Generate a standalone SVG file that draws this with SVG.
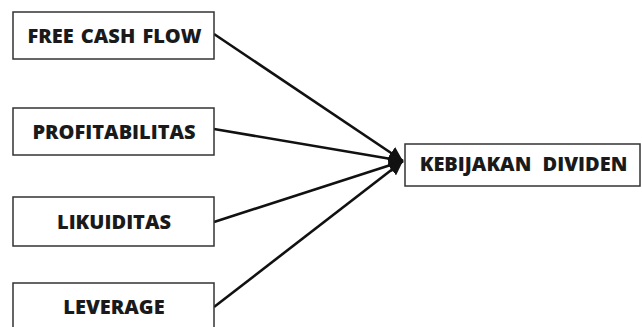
<svg xmlns="http://www.w3.org/2000/svg" width="642" height="327" viewBox="0 0 642 327">
<style>
.box{fill:#fff;stroke:#333;stroke-width:1.5}
.lbl{font-family:"Open Sans","Liberation Sans",sans-serif;font-weight:800;font-size:20px;fill:#1a1a1a;text-anchor:middle}
.conn{stroke:#111;stroke-width:2.6;fill:none}
</style>
<defs>
<marker id="ah" viewBox="0 0 10 10" refX="10" refY="5" markerWidth="5.5" markerHeight="5.5" markerUnits="strokeWidth" orient="auto">
<path d="M0,0 L10,5 L0,10 Z" fill="#111"/>
</marker>
</defs>
<rect width="642" height="327" fill="#fff"/>
<g id="connectors">
<line class="conn" x1="214" y1="34" x2="403" y2="161" marker-end="url(#ah)"/>
<line class="conn" x1="214" y1="129" x2="403" y2="161" marker-end="url(#ah)"/>
<line class="conn" x1="214" y1="222" x2="403" y2="161" marker-end="url(#ah)"/>
<line class="conn" x1="214" y1="307" x2="403" y2="161" marker-end="url(#ah)"/>
</g>
<g id="free-cash-flow">
<rect class="box" x="13" y="12" width="201" height="47"/>
<text class="lbl" x="114.5" y="43.3" word-spacing="2">FREE CASH FLOW</text>
</g>
<g id="profitabilitas">
<rect class="box" x="13" y="108" width="201" height="47"/>
<text class="lbl" x="114" y="139">PROFITABILITAS</text>
</g>
<g id="likuiditas">
<rect class="box" x="13" y="197" width="201" height="49"/>
<text class="lbl" x="114" y="229">LIKUIDITAS</text>
</g>
<g id="leverage">
<rect class="box" x="13" y="283" width="201" height="60"/>
<text class="lbl" x="114" y="314">LEVERAGE</text>
</g>
<g id="kebijakan-dividen">
<rect class="box" x="405" y="144" width="235" height="42"/>
<text class="lbl" x="523.5" y="171" word-spacing="6">KEBIJAKAN DIVIDEN</text>
</g>
</svg>
